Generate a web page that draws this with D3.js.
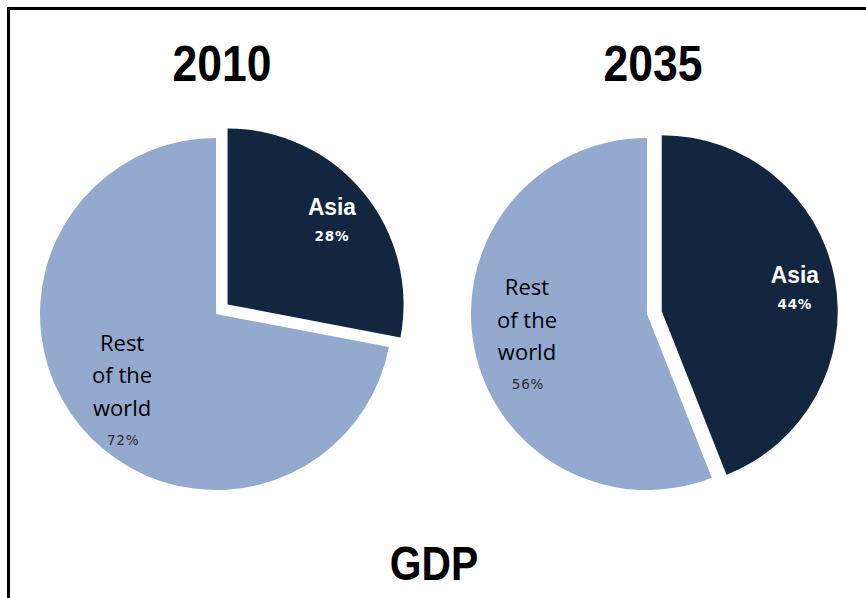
<!DOCTYPE html>
<html>
<head>
<meta charset="utf-8">
<script src="https://cdn.jsdelivr.net/npm/d3@7/dist/d3.min.js"></script>
<style>
  html, body { margin: 0; padding: 0; background: #fff; }
  svg { display: block; }
</style>
</head>
<body>
<script>
// GDP share: Asia vs rest of the world
const years = ["2010", "2035"];
const regions = ["Asia", "Rest of the world"];
const asiaShare = [28, 44];
const restShare = [72, 56];
const chartTitle = "GDP";

const W = 866, H = 598;
const colors = d3.scaleOrdinal().domain(regions).range(["#13263f", "#94a9ce"]);

const svg = d3.select("body").append("svg").attr("width", W).attr("height", H);

// open frame: left and top edges
svg.append("path")
  .attr("d", "M8.5,610V8.5H880")
  .attr("fill", "none").attr("stroke", "#000").attr("stroke-width", 3);

const radius = 176;
const explode = 15;
const centers = d3.scalePoint().domain(years).range([216, 647]);
const cy = 314;

const pie = d3.pie().sort(null).value(d => d.value);
const arc = d3.arc().innerRadius(0).outerRadius(radius);

// label anchor distance as a fraction of the radius, per region
const labelFrac = { "Asia": 0.77, "Rest of the world": 0.70 };

// condensed bold heading text, centred on (x, y)
function heading(x, y, size, squeeze, txt) {
  svg.append("g").attr("transform", `translate(${x},${y}) scale(${squeeze},1)`)
    .append("text")
    .attr("text-anchor", "middle")
    .attr("font-family", "'Liberation Sans', Arial, sans-serif")
    .attr("font-weight", "bold").attr("font-size", size)
    .text(txt);
}

years.forEach((yr, i) => {
  const data = [
    { region: regions[0], value: asiaShare[i] },
    { region: regions[1], value: restShare[i] }
  ];
  const g = svg.append("g").attr("transform", `translate(${centers(yr)},${cy})`);
  const arcs = pie(data);

  const slice = g.selectAll("g.slice").data(arcs).join("g").attr("class", "slice")
    .attr("transform", d => {
      if (d.data.region !== "Asia") return null;
      const m = (d.startAngle + d.endAngle) / 2;
      return `translate(${explode * Math.sin(m)},${-explode * Math.cos(m)})`;
    });

  slice.append("path").attr("d", arc).attr("fill", d => colors(d.data.region));

  slice.each(function(d) {
    const m = (d.startAngle + d.endAngle) / 2;
    const rr = radius * labelFrac[d.data.region];
    const px = rr * Math.sin(m), py = -rr * Math.cos(m);
    const sel = d3.select(this);
    if (d.data.region === "Asia") {
      sel.append("g").attr("transform", `translate(${px},${py - 3}) scale(0.95,1)`)
        .append("text")
        .attr("text-anchor", "middle").attr("fill", "#fff")
        .attr("font-family", "'Liberation Sans', Arial, sans-serif")
        .attr("font-weight", "bold").attr("font-size", 24).text("Asia");
      sel.append("text").attr("x", px).attr("y", py + 23)
        .attr("text-anchor", "middle").attr("fill", "#fff")
        .attr("font-family", "'DejaVu Sans', sans-serif")
        .attr("font-weight", "bold").attr("font-size", 13.5)
        .attr("letter-spacing", 0.8)
        .text(d.data.value + "%");
    } else {
      const lines = ["Rest", "of the", "world"];
      lines.forEach((t, k) => {
        sel.append("text").attr("x", px + 1).attr("y", py - 42 + k * 32.5)
          .attr("text-anchor", "middle").attr("fill", "#000")
          .attr("font-family", "'Open Sans', sans-serif")
          .attr("font-size", 22).text(t);
      });
      sel.append("text").attr("x", px + 2).attr("y", py + 52)
        .attr("text-anchor", "middle").attr("fill", "#2a2a2a")
        .attr("font-family", "'DejaVu Sans', sans-serif")
        .attr("font-size", 13.5).attr("letter-spacing", 0.8)
        .text(d.data.value + "%");
    }
  });

  heading(centers(yr) + 6, 81, 50, 0.89, yr);
});

heading(434, 580, 48, 0.85, chartTitle);
</script>
</body>
</html>
